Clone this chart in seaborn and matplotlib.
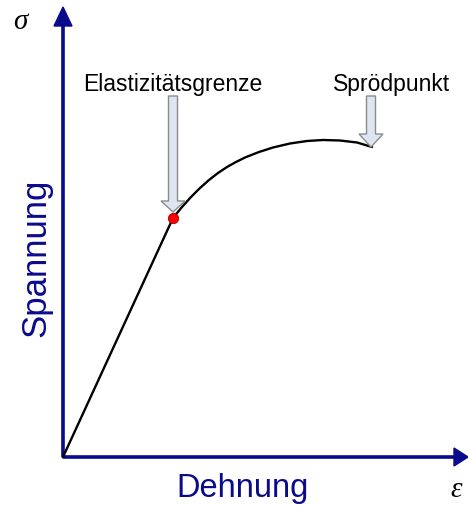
import matplotlib
matplotlib.use("Agg")
import matplotlib.pyplot as plt
from matplotlib.patches import FancyArrow
import seaborn as sns
import pandas as pd

# Data (pixel-like units relative to the origin of the diagram)
strain = [0, 110, 119, 128, 137, 146, 155, 164, 173, 182, 196, 210, 227, 244, 260, 277, 294, 309]
stress = [0, 239, 250, 260, 269, 277, 284, 290, 295, 299.5, 305, 309.5, 313.5, 316, 317, 316.5, 314.5, 310]
elastic_limit = (110, 239)
brittle_point = (308, 310)
label_elastic = "Elastizitätsgrenze"
label_brittle = "Sprödpunkt"
x_label = "Dehnung"
y_label = "Spannung"

sns.set_theme(style="white")
plt.rcParams['font.family'] = ['Liberation Sans', 'DejaVu Sans']

fig = plt.figure(figsize=(4.68, 5.06), dpi=100)
ax = fig.add_axes([0, 0, 1, 1])
ax.set_xlim(-63, 405)
ax.set_ylim(-48, 458)
ax.axis('off')

df = pd.DataFrame({"strain": strain, "stress": stress})
sns.lineplot(data=df, x="strain", y="stress", sort=False, color="black", lw=1.7, ax=ax, zorder=3)

navy = "#0a0a8c"
# axes arrows
ax.add_patch(FancyArrow(0, 0, 0, 450, width=2.2, head_width=18, head_length=19,
                        length_includes_head=True, color=navy, zorder=2))
ax.add_patch(FancyArrow(0, 0, 405, 0, width=2.2, head_width=18, head_length=14,
                        length_includes_head=True, color=navy, zorder=2))

# block arrows
fill = "#dde5f0"
edge = "#8c8c8c"
ax.add_patch(FancyArrow(elastic_limit[0], 361, 0, -(361 - 245), width=9, head_width=24,
                        head_length=11, length_includes_head=True, fc=fill, ec=edge, lw=1, zorder=4))
ax.add_patch(FancyArrow(brittle_point[0], 361, 0, -(361 - brittle_point[1]), width=9, head_width=24,
                        head_length=13, length_includes_head=True, fc=fill, ec=edge, lw=1, zorder=4))

sns.scatterplot(x=[elastic_limit[0]], y=[elastic_limit[1]], s=55, color="#ff0000",
                edgecolor="#a00000", linewidth=0.6, ax=ax, zorder=5)

ax.text(elastic_limit[0], 373, label_elastic, ha="center", va="center", fontsize=16.5, color="black")
ax.text(329, 373, label_brittle, ha="center", va="center", fontsize=16.5, color="black")
ax.text(-27, 200, y_label, rotation=90, ha="center", va="center", fontsize=25, color=navy)
ax.text(180, -31, x_label, ha="center", va="center", fontsize=23.5, color=navy)
ax.text(-43, 436, "σ", ha="center", va="center", fontsize=21, style="italic",
        family=['Liberation Serif', 'DejaVu Serif'], color="black")
ax.text(393, -32, "ε", ha="center", va="center", fontsize=21, style="italic",
        family=['Liberation Serif', 'DejaVu Serif'], color="black")

fig.savefig("out.png", dpi=100)
